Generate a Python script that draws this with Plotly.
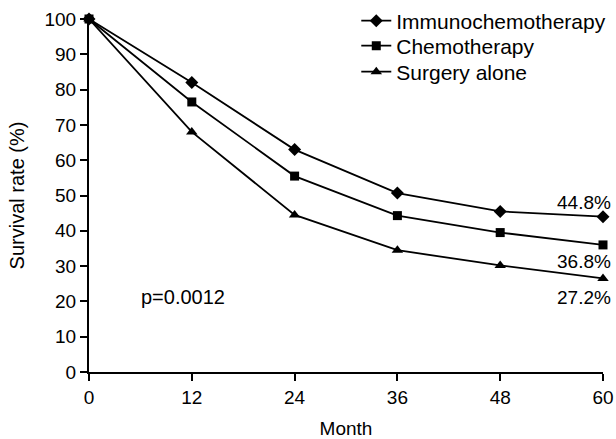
import plotly.graph_objects as go

months = [0, 12, 24, 36, 48, 60]
immuno = [100, 82, 63, 50.7, 45.5, 44.0]
chemo = [100, 76.5, 55.5, 44.3, 39.5, 36.0]
surgery = [100, 68, 44.5, 34.5, 30.2, 26.5]
series_names = ["Immunochemotherapy", "Chemotherapy", "Surgery alone"]
symbols = ["diamond", "square", "triangle-up"]
end_labels = ["44.8%", "36.8%", "27.2%"]
end_label_y = [48.1, 31.2, 21.2]
p_text = "p=0.0012"
x_ticks = [0, 12, 24, 36, 48, 60]
y_ticks = [0, 10, 20, 30, 40, 50, 60, 70, 80, 90, 100]

font = "Liberation Sans, Arial, sans-serif"
legend_ids = ["legend", "legend2", "legend3"]
legend_y = [0.9943, 0.9235, 0.8499]

fig = go.Figure()
for name, vals, sym, lid in zip(series_names, [immuno, chemo, surgery], symbols, legend_ids):
    fig.add_trace(go.Scatter(
        x=months, y=vals, name=name, mode="lines+markers",
        line=dict(color="black", width=1.8),
        marker=dict(symbol=sym, size=10 if sym != "square" else 9, color="black"),
        cliponaxis=False, legend=lid,
    ))

for txt, yv in zip(end_labels, end_label_y):
    fig.add_annotation(x=60, y=yv, text=txt, showarrow=False, xanchor="right",
                       xshift=10, font=dict(size=19, color="black", family=font))
fig.add_annotation(x=5.8, y=21.2, text=p_text, showarrow=False, xanchor="left",
                   font=dict(size=20, color="black", family=font))

legend_common = dict(x=0.520, xanchor="left", yanchor="middle",
                     bgcolor="rgba(0,0,0,0)", font=dict(size=21, family=font),
                     itemwidth=30, borderwidth=0)
legends = {}
for lid, ly in zip(legend_ids, legend_y):
    legends[lid] = dict(legend_common, y=ly)

fig.update_layout(
    width=616, height=439,
    margin=dict(l=89, r=13, t=19, b=67, autoexpand=False),
    plot_bgcolor="white", paper_bgcolor="white",
    font=dict(family=font, size=19, color="black"),
    showlegend=True,
    **legends,
    xaxis=dict(range=[0, 60], tickvals=x_ticks, ticks="outside", ticklen=7,
               tickwidth=2, tickcolor="black", showline=True, linecolor="black",
               linewidth=2, showgrid=False, zeroline=False, automargin=False,
               tickfont=dict(size=19),
               title=dict(text="Month", font=dict(size=19), standoff=16)),
    yaxis=dict(range=[0, 100], tickvals=y_ticks, ticks="outside", ticklen=7,
               tickwidth=2, tickcolor="black", showline=True, linecolor="black",
               linewidth=2, showgrid=False, zeroline=False, automargin=False,
               tickfont=dict(size=19),
               title=dict(text="Survival rate (%)", font=dict(size=20), standoff=14)),
)
fig.write_html("out.html", config={"displayModeBar": False},
               post_script="document.body.style.margin='0';document.body.style.overflow='hidden';")
